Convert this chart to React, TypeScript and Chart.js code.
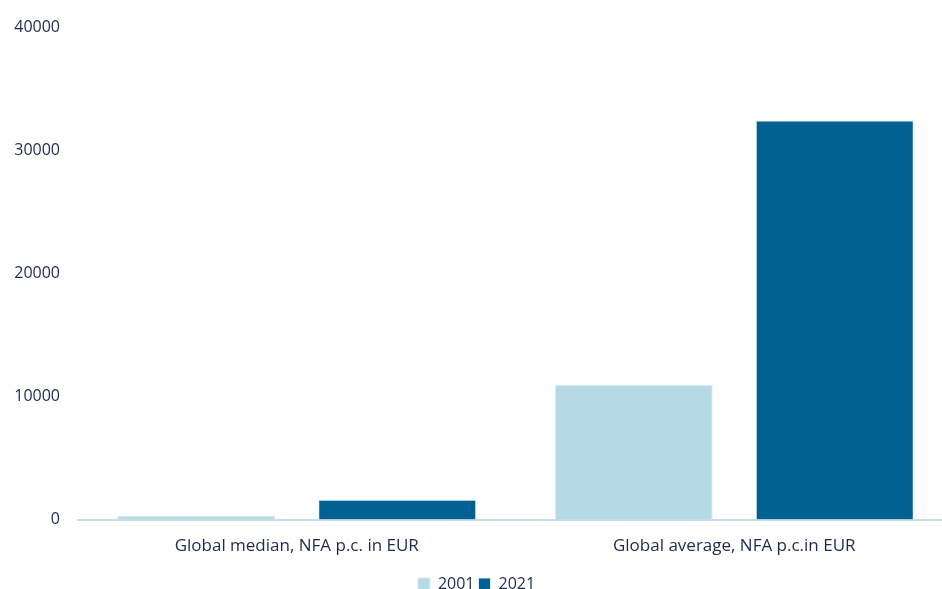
import React, { useEffect, useRef } from "react";
import { Chart, registerables } from "chart.js";

Chart.register(...registerables);

const categories = ["Global median, NFA p.c. in EUR", "Global average, NFA p.c.in EUR"];
const series2001 = [320, 10950];
const series2021 = [1620, 32450];
const seriesLabels = ["2001", "2021"];
const yTicks = [0, 10000, 20000, 30000, 40000];

const TEXT = "#1c2b4d";
const FONT = "'Open Sans', sans-serif";

export default function App() {
  const ref = useRef<HTMLCanvasElement | null>(null);
  useEffect(() => {
    document.body.style.margin = "0";
    const ctx = ref.current!;
    const chart = new Chart(ctx, {
      type: "bar",
      data: {
        labels: categories,
        datasets: [
          {
            label: seriesLabels[0],
            data: series2001,
            backgroundColor: "#b6dae5",
            borderColor: "#d8ecf5",
            borderWidth: 1,
            barPercentage: 0.786,
            categoryPercentage: 0.919,
          },
          {
            label: seriesLabels[1],
            data: series2021,
            backgroundColor: "#006192",
            borderColor: "#d8ecf5",
            borderWidth: 1,
            barPercentage: 0.786,
            categoryPercentage: 0.919,
          },
        ],
      },
      options: {
        animation: false,
        responsive: false,
        maintainAspectRatio: false,
        layout: { padding: { top: 17, right: 0, left: 0, bottom: 0 } },
        plugins: {
          tooltip: { enabled: false },
          legend: {
            position: "bottom",
            labels: {
              boxWidth: 12,
              boxHeight: 12,
              padding: 4,
              color: TEXT,
              font: { family: FONT, size: 16 },
            },
          },
        },
        scales: {
          x: {
            grid: { display: false, drawTicks: false },
            border: { display: true, color: "#c6dcf0", width: 2 },
            ticks: { color: TEXT, font: { family: FONT, size: 17 }, padding: 16 },
          },
          y: {
            min: 0,
            max: 40000,
            afterBuildTicks: (s: any) => {
              s.ticks = yTicks.map((v) => ({ value: v }));
            },
            afterFit: (s: any) => {
              s.width = 78;
            },
            grid: { display: false, drawTicks: false },
            border: { display: false },
            ticks: {
              color: TEXT,
              font: { family: FONT, size: 16 },
              padding: 18,
              callback: (v: any) => String(v),
            },
          },
        },
      },
    });
    return () => chart.destroy();
  }, []);
  return (
    <div style={{ width: 942, height: 589, overflow: "hidden" }}>
      <canvas ref={ref} width={953} height={602} style={{ display: "block" }} />
    </div>
  );
}
